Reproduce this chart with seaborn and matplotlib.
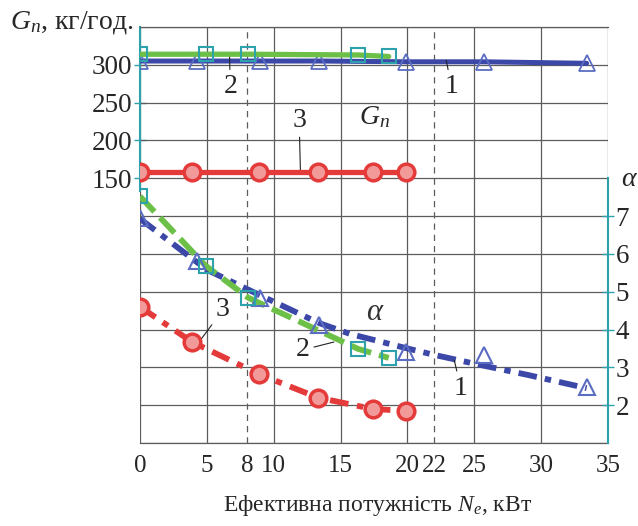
import numpy as np
import pandas as pd
import matplotlib
matplotlib.use("Agg")
from matplotlib import pyplot as plt
import seaborn as sns

# fuel flow G_n (kg/h) and air excess ratio alpha vs effective power N_e (kW)
x1 = [0, 4.3, 9.0, 13.4, 19.9, 25.7, 33.4]
g1 = [305, 305, 305, 305, 304, 304, 302]
a1 = [6.96, 5.8, 4.84, 4.12, 3.4, 3.33, 2.48]
# smoothed trend of curve 1 (alpha)
t1x = [0, 5, 8.9, 13.4, 15.75, 20, 22, 25.5, 29, 33.4]
t1a = [6.93, 5.58, 4.92, 4.17, 3.88, 3.5, 3.33, 3.06, 2.8, 2.45]

x2 = [0, 4.9, 8.1, 16.3, 18.6]
g2 = [314, 314, 314, 313, 311]
a2 = [7.52, 5.69, 4.84, 3.49, 3.25]

x3 = [0, 3.9, 8.9, 13.3, 17.4, 19.9]
g3 = [158, 158, 158, 158, 158, 158]
a3 = [4.6, 3.67, 2.82, 2.2, 1.9, 1.85]

x_ticks = [0, 5, 8, 10, 15, 20, 22, 25, 30, 35]
g_ticks = [150, 200, 250, 300]
a_ticks = [2, 3, 4, 5, 6, 7]

blue = "#3c48a8"
tri = "#5b6dc2"
green = "#6cc048"
red = "#e43a3a"
teal = "#2ea2ac"
grid = "#5c5c5c"

sns.set_style("white")
plt.rcParams['font.family'] = ['Liberation Serif', 'DejaVu Serif']
plt.rcParams['mathtext.fontset'] = 'custom'
plt.rcParams['mathtext.rm'] = 'Liberation Serif'
plt.rcParams['mathtext.it'] = 'Liberation Serif:italic'

fig = plt.figure(figsize=(6.38, 5.26), dpi=100)
ax = fig.add_axes([140/638, 1-443/526, 468/638, 416/526])
ax2 = ax.twinx()

ax.set_xlim(0, 35)
ax.set_ylim(-200, 350)
ax2.set_ylim(1, 12)

# grid
ax.xaxis.remove_overlapping_locs = False
ax.yaxis.remove_overlapping_locs = False
ax.set_axisbelow(True)
ax.set_xticks([0, 5, 10, 15, 20, 25, 30, 35], minor=True)
ax.set_yticks(np.arange(-200, 351, 50), minor=True)
ax.grid(which='minor', color=grid, lw=0.9)
for xv in [8, 22]:
    ax.axvline(xv, color=grid, lw=0.9, ls=(0, (5, 4)), zorder=0.5)

ax.set_xticks(x_ticks)
ax.set_xticklabels([str(t) for t in x_ticks])
ax.set_yticks(g_ticks)
ax.set_yticklabels([str(t) for t in g_ticks])
ax2.set_yticks(a_ticks)
ax2.set_yticklabels([str(t) for t in a_ticks])
ax.tick_params(axis='x', which='both', length=0, labelsize=18, pad=9)
ax.tick_params(axis='y', which='major', direction='inout', length=9, width=1,
               color=teal, labelsize=19.5, pad=1)
ax.tick_params(axis='y', which='minor', length=0)
ax2.tick_params(axis='y', direction='inout', length=9, width=1, color=teal,
                labelsize=19.5, pad=1)

for s in ['top', 'bottom']:
    ax.spines[s].set_color(grid)
    ax.spines[s].set_linewidth(0.9)
ax.spines['right'].set_visible(False)
ax.spines['left'].set_color(teal)
ax.spines['left'].set_linewidth(1.5)
ax.spines['left'].set_bounds(133, 350)
for s in ['top', 'bottom', 'left']:
    ax2.spines[s].set_visible(False)
ax2.spines['right'].set_color(teal)
ax2.spines['right'].set_linewidth(1.5)
ax2.spines['right'].set_bounds(1, 8)

# G_n curves
sns.lineplot(x=x1, y=g1, ax=ax, color=blue, lw=3.6, marker='^', ms=11,
             mfc='none', mec=tri, mew=1.3, sort=False, zorder=3)
sns.lineplot(x=x2, y=g2, ax=ax, color=green, lw=3.8, marker='s', ms=10,
             mfc='none', mec=teal, mew=1.5, sort=False, zorder=4)
sns.lineplot(x=x3, y=g3, ax=ax, color=red, lw=3.8, marker='o', ms=12,
             mfc='#f29a9a', mec=red, mew=2.5, sort=False, zorder=4)

# alpha curves
for lx, ly, xs, ys, c, m, mc, mf, ms, dd in [
        (t1x, t1a, x1, a1, blue, '^', tri, 'none', 11, (3.2, 1.4, 1.1, 1.4)),
        (x2, a2, x2, a2, green, 's', teal, 'none', 10, (3.6, 1.4)),
        (x3, a3, x3, a3, red, 'o', red, '#f29a9a', 12, (3.2, 1.5, 1.1, 1.5))]:
    sns.lineplot(x=lx, y=ly, ax=ax2, color=c, lw=4.2, sort=False, zorder=3)
    ax2.lines[-1].set_dashes(dd)
    sns.lineplot(x=xs, y=ys, ax=ax2, color=c, lw=0, marker=m, ms=ms,
                 mfc=mf, mec=mc, mew=1.5 if m != 'o' else 2.5, sort=False, zorder=4)

ax.set_xlabel('')
ax.set_ylabel('')
ax2.set_ylabel('')

arr = dict(arrowstyle='-', color='#222222', lw=0.8, shrinkA=1, shrinkB=0)
ax.annotate('2', xy=(6.7, 311), xytext=(6.75, 271), fontsize=20, ha='center', va='center', arrowprops=arr)
ax.annotate('1', xy=(22.9, 306), xytext=(23.3, 271), fontsize=20, ha='center', va='center', arrowprops=arr)
ax.annotate('3', xy=(12.0, 158), xytext=(11.9, 227), fontsize=20, ha='center', va='center', arrowprops=arr)
ax.text(17.5, 231, '$G_n$', fontsize=20, ha='center', va='center')

ax2.annotate('3', xy=(4.35, 3.64), xytext=(6.2, 4.52), fontsize=20, ha='center', va='center', arrowprops=arr)
ax2.annotate('2', xy=(14.5, 3.67), xytext=(12.15, 3.46), fontsize=20, ha='center', va='center', arrowprops=arr)
ax2.annotate('1', xy=(23.5, 3.19), xytext=(24.0, 2.45), fontsize=20, ha='center', va='center', arrowprops=arr)
ax2.text(17.6, 4.44, r'$\alpha$', fontsize=22, ha='center', va='center', color='#333333')

fig.text(0.016, 1-22/526, '$G_n$, кг/год.', fontsize=20, ha='left', va='center')
fig.text(630/638, 1-180/526, r'$\alpha$', fontsize=20, ha='center', va='center')
fig.text(378/638, 1-505/526, 'Ефективна потужність $N_e$, кВт', fontsize=17, ha='center', va='center')

fig.savefig('out.png', dpi=100)
